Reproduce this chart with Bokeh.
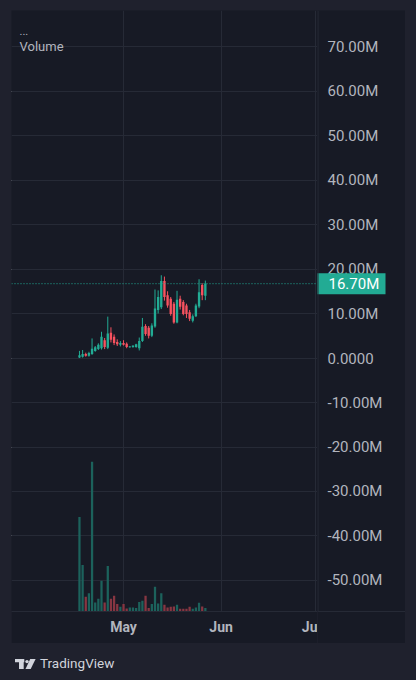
import re
import pandas as pd
from bokeh.plotting import figure
from bokeh.models import Range1d, FixedTicker, Span, Label, ColumnDataSource, Grid, Div
from bokeh.layouts import column, row
from bokeh.embed import file_html
from bokeh.resources import INLINE

# ---------------- data ----------------
start_date = "2024-04-17"
dates = pd.date_range(start_date, periods=41, freq="D")

open_ = [0.1, 0.3, 0.9, 0.5, 0.9, 1.6, 2.0, 2.2, 4.0, 2.3,
         5.7, 4.8, 3.6, 3.0, 3.4, 3.2, 2.4, 2.5, 2.5, 2.2,
         3.8, 7.2, 6.8, 5.0, 7.1, 10.8, 11.4, 17.3, 14.1, 13.3,
         12.2, 8.0, 13.3, 12.6, 11.8, 10.3, 8.4, 9.4, 11.6, 16.4,
         14.0]
high = [1.6, 1.8, 1.2, 1.4, 4.4, 2.7, 3.3, 5.9, 4.5, 9.3,
        6.9, 5.3, 4.2, 3.8, 4.0, 3.5, 2.7, 2.8, 3.2, 4.6,
        9.0, 7.6, 7.2, 7.8, 15.4, 15.2, 18.6, 18.3, 15.0, 13.7,
        12.6, 15.1, 14.0, 13.0, 12.2, 10.8, 9.8, 12.2, 17.7, 16.8,
        17.4]
low = [0.0, 0.1, 0.3, 0.3, 0.7, 1.4, 1.8, 1.9, 2.0, 2.0,
       3.5, 2.9, 2.7, 2.6, 2.8, 2.2, 2.3, 2.3, 2.3, 1.7,
       3.6, 5.0, 4.4, 4.7, 6.8, 10.0, 11.0, 12.9, 11.3, 9.5,
       7.7, 7.8, 10.9, 9.6, 9.0, 8.3, 8.0, 9.2, 11.2, 13.0,
       13.0]
close = [0.6, 0.9, 0.5, 1.1, 2.1, 2.4, 3.0, 4.8, 2.5, 5.5,
         4.1, 3.4, 3.1, 3.4, 3.0, 2.5, 2.6, 2.8, 3.1, 3.8,
         7.0, 5.4, 5.0, 7.3, 11.1, 13.7, 17.3, 13.7, 11.8, 9.9,
         8.0, 13.1, 11.5, 9.9, 9.9, 8.8, 9.4, 11.8, 14.8, 14.1,
         16.7]
volume = [30.5, 15.0, 4.8, 5.9, 48.3, 2.9, 4.1, 9.9, 2.9, 14.7,
          4.1, 5.1, 2.4, 1.5, 2.4, 1.0, 1.3, 1.3, 1.1, 3.1,
          3.5, 5.1, 1.1, 2.4, 8.0, 2.6, 5.9, 2.2, 1.3, 1.5,
          1.6, 2.2, 0.9, 0.9, 0.9, 1.5, 0.9, 1.3, 2.8, 1.6,
          1.1]

last_price = 16.7
last_price_label = "16.70M"

price_ticks = [70, 60, 50, 40, 30, 20, 10, 0, -10, -20, -30, -40, -50]
price_labels = ["70.00M", "60.00M", "50.00M", "40.00M", "30.00M", "20.00M",
                "10.00M", "0.0000", "-10.00M", "-20.00M", "-30.00M",
                "-40.00M", "-50.00M"]

month_ticks = ["2024-05-01", "2024-06-01", "2024-07-01"]
month_labels = ["May", "Jun", "Ju"]   # the last one is cut off at the chart edge

legend_title = "Volume"
brand = "TradingView"

# ---------------- styles ----------------
OUTER = "#1f212d"
PANEL = "#171a25"
GRID = "#262a36"
TEXT = "#b2b5be"
UP = "#22ab94"
DOWN = "#f7525f"
VUP = "#1c625c"
VDOWN = "#873642"
LOGO = "#d1d4dc"
FONT = "Roboto"

DAY = 86400000.0


def ms(s):
    return pd.Timestamp(s).timestamp() * 1000.0


up = [c >= o for o, c in zip(open_, close)]
src = ColumnDataSource(dict(
    x=list(dates),
    open=open_, high=high, low=low, close=close,
    top=[max(o, c) for o, c in zip(open_, close)],
    bottom=[min(o, c) for o, c in zip(open_, close)],
    color=[UP if u else DOWN for u in up],
    vcolor=[VUP if u else VDOWN for u in up],
    vol=volume,
))

may1 = ms(month_ticks[0])
jul1 = ms(month_ticks[2])
x0 = may1 - 35.6 * DAY
x1 = jul1 + 0.64 * DAY
yr = Range1d(-56.97, 78.1)

# ---------------- main chart ----------------
p = figure(width=306, height=633, x_axis_type="datetime",
           x_range=Range1d(x0, x1), y_range=yr,
           y_axis_location=None,
           output_backend="svg", toolbar_location=None,
           min_border_left=0, min_border_top=0,
           min_border_right=0, min_border_bottom=32,
           background_fill_color=PANEL, border_fill_color=PANEL,
           outline_line_color=None)
p.margin = (2, 0, 0, 3)

p.extra_y_ranges = {"vol": Range1d(0, 194)}

p.vbar(x="x", top="vol", bottom=0, width=0.72 * DAY, source=src,
       fill_color="vcolor", line_color=None, y_range_name="vol")
p.segment(x0="x", y0="high", x1="x", y1="low", source=src,
          line_color="color", line_width=1)
p.vbar(x="x", top="top", bottom="bottom", width=0.75 * DAY, source=src,
       fill_color="color", line_color=None)

p.xaxis.ticker = FixedTicker(ticks=[ms(t) for t in month_ticks])
p.xaxis.major_label_overrides = {ms(t): l for t, l in zip(month_ticks, month_labels)}
p.xaxis.major_tick_line_color = None
p.xaxis.minor_tick_line_color = None
p.xaxis.major_tick_out = 0
p.xaxis.major_tick_in = 0
p.xaxis.minor_tick_out = 0
p.xaxis.axis_line_color = GRID
p.xaxis.major_label_text_color = TEXT
p.xaxis.major_label_text_font = FONT
p.xaxis.major_label_text_font_size = "14px"
p.xaxis.major_label_text_font_style = "bold"
p.xaxis.major_label_standoff = 7
p.xgrid.grid_line_color = GRID

p.add_layout(Grid(dimension=1, ticker=FixedTicker(ticks=price_ticks),
                  grid_line_color=GRID))

p.add_layout(Span(location=last_price, dimension="width", line_color=UP,
                  line_dash="1 2", line_width=1))

p.add_layout(Label(x=8, x_units="screen", y=73.6, text="...",
                   text_baseline="middle", text_font_size="11px",
                   text_color=TEXT, text_font=FONT))
p.add_layout(Label(x=8, x_units="screen", y=70.0, text=legend_title,
                   text_baseline="middle", text_font_size="13px",
                   text_color=TEXT, text_font=FONT))

# ---------------- price scale ----------------
s = figure(width=88, height=633, x_range=Range1d(0, 88), y_range=yr,
           y_axis_location=None,
           output_backend="svg", toolbar_location=None,
           min_border_left=0, min_border_top=0,
           min_border_right=0, min_border_bottom=32,
           background_fill_color=PANEL, border_fill_color=PANEL,
           outline_line_color=None)
s.margin = (2, 3, 0, 0)
s.xgrid.visible = False
s.ygrid.visible = False
s.xaxis.ticker = FixedTicker(ticks=[])
s.xaxis.axis_line_color = GRID
s.xaxis.major_tick_line_color = None
s.xaxis.minor_tick_line_color = None

s.add_layout(Span(location=0.5, dimension="height", line_color=GRID, line_width=1))

s.text(x=[10] * len(price_ticks), y=price_ticks, text=price_labels,
       text_baseline="middle", text_align="left", text_font_size="15px",
       text_color=TEXT, text_font={"value": FONT})
s.rect(x=[33.5], y=[last_price], width=69, height=21,
       width_units="screen", height_units="screen",
       fill_color=UP, line_color=None)
s.text(x=[11], y=[last_price], text=[last_price_label],
       text_baseline="middle", text_align="left", text_font_size="15px",
       text_color="#ffffff", text_font={"value": FONT})

# ---------------- brand strip ----------------
icon = ('<svg width="21" height="11" viewBox="0 0 21 11" style="margin-right:4px">'
        '<path d="M0 0h9.3v3.3H0z M4 0h4.7v10H4z" fill="%s"/>'
        '<circle cx="12" cy="2.6" r="1.7" fill="%s"/>'
        '<path d="M15.2 0h5.4l-4.9 10h-5.2z" fill="%s"/></svg>') % (LOGO, LOGO, LOGO)
brand_div = Div(
    text=('<div style="display:flex;align-items:center;height:32px;padding-left:2px;'
          'font-family:Roboto,sans-serif;font-size:13.5px;color:%s;">%s<span>%s</span></div>')
    % (LOGO, icon, brand),
    width=400, height=32)

layout = column(row(p, s, spacing=0), brand_div, spacing=0)

html = file_html(layout, INLINE)
page_style = ("<style>html, body { background-color: %s !important; }"
              " body { padding: 8px !important; margin: 0 !important; }</style>") % OUTER
if "</head>" in html:
    html = html.replace("</head>", page_style + "</head>", 1)
else:
    html = re.sub(r"<body[^>]*>", lambda m: m.group(0) + page_style, html, count=1)
open("out.html", "w").write(html)
